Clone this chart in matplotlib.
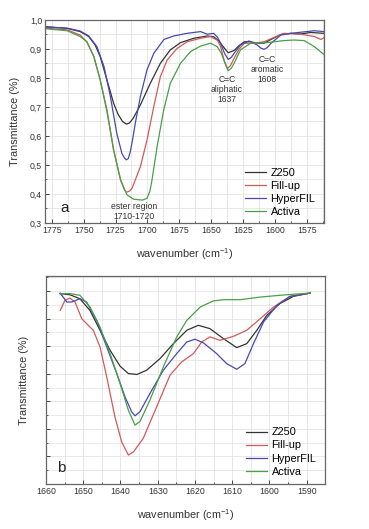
import matplotlib
matplotlib.use("Agg")
import matplotlib.pyplot as plt
from matplotlib.ticker import MultipleLocator, FuncFormatter

plt.rcParams['font.family'] = ['Liberation Sans', 'DejaVu Sans']
plt.rcParams['mathtext.fontset'] = 'custom'
plt.rcParams['mathtext.rm'] = 'Liberation Sans'
plt.rcParams['mathtext.it'] = 'Liberation Sans:italic'

# ---------------- Panel a data ----------------
z250_a_x = [1780, 1763, 1752.7, 1746, 1741, 1737, 1731.7, 1726.5, 1723, 1719.5, 1716.5, 1714, 1711, 1705.5,
            1697.7, 1689.8, 1682, 1674, 1663.6, 1653, 1648, 1644, 1640, 1636.6, 1632, 1628, 1624, 1619,
            1614, 1608.5, 1603, 1595.4, 1587.6, 1579.7, 1571.8, 1561.5]
z250_a_y = [0.977, 0.971, 0.96, 0.943, 0.914, 0.874, 0.793, 0.713, 0.675, 0.650, 0.641, 0.645, 0.662, 0.707,
            0.782, 0.851, 0.897, 0.922, 0.937, 0.945, 0.942, 0.928, 0.905, 0.887, 0.895, 0.912, 0.925, 0.925,
            0.92, 0.92, 0.933, 0.95, 0.954, 0.952, 0.957, 0.954]

fill_a_x = [1780, 1763, 1752.7, 1747.5, 1742, 1737, 1731.7, 1726.5, 1721, 1718, 1716.5, 1714, 1712, 1705.5,
            1700.3, 1695, 1689.8, 1684.5, 1676.7, 1668.8, 1658.3, 1650.5, 1645, 1642.6, 1639.5, 1637.4, 1635, 1632,
            1628, 1624, 1616.4, 1608.5, 1600.7, 1593, 1579.7, 1569, 1564, 1561]
fill_a_y = [0.972, 0.966, 0.948, 0.925, 0.874, 0.793, 0.69, 0.552, 0.448, 0.414, 0.406, 0.41, 0.42, 0.494,
            0.586, 0.701, 0.805, 0.862, 0.902, 0.925, 0.937, 0.943, 0.93, 0.908, 0.855, 0.832, 0.842, 0.868,
            0.9, 0.92, 0.92, 0.925, 0.94, 0.954, 0.951, 0.943, 0.933, 0.94]

hyper_a_x = [1780, 1763, 1752.7, 1746, 1739.6, 1734, 1729, 1724, 1720, 1718, 1716.5, 1715, 1713.4, 1711.5, 1709.5,
             1705.5, 1700.3, 1695, 1687, 1679.3, 1668.8, 1658.3, 1653, 1648, 1645, 1642.6, 1639.5, 1636.6,
             1634, 1632, 1627, 1620.3, 1614, 1611, 1608.5, 1606, 1603, 1595.4, 1587.6, 1569, 1561.5]
hyper_a_y = [0.976, 0.972, 0.962, 0.945, 0.908, 0.839, 0.736, 0.609, 0.54, 0.524, 0.518, 0.522, 0.546, 0.59, 0.644,
             0.736, 0.828, 0.885, 0.933, 0.945, 0.954, 0.96, 0.951, 0.954, 0.94, 0.92, 0.885, 0.864,
             0.872, 0.885, 0.914, 0.928, 0.914, 0.903, 0.899, 0.905, 0.92, 0.948, 0.954, 0.963, 0.96]

activa_a_x = [1780, 1763, 1752.7, 1747.5, 1742, 1737, 1731.7, 1726.5, 1721, 1716, 1710.8, 1704,
              1700.3, 1698, 1696.4, 1692.4, 1687.2, 1682, 1674, 1666.2, 1658.3, 1650.5, 1645.2, 1642, 1640,
              1636.6, 1634, 1632, 1627, 1619, 1606, 1593, 1585, 1577, 1569, 1561]
activa_a_y = [0.97, 0.963, 0.943, 0.925, 0.874, 0.793, 0.684, 0.552, 0.448, 0.397, 0.382, 0.379,
              0.385, 0.41, 0.448, 0.563, 0.69, 0.782, 0.851, 0.891, 0.91, 0.92, 0.908, 0.885, 0.862,
              0.825, 0.835, 0.851, 0.897, 0.92, 0.922, 0.929, 0.931, 0.929, 0.908, 0.879]

# ---------------- Panel b data ----------------
z250_b_x = [1656.2, 1653.6, 1650.9, 1648.2, 1645.5, 1642.8, 1640.1, 1637.9, 1635.6, 1633, 1629.4,
            1625.8, 1622.2, 1619.1, 1616, 1612.4, 1608.8, 1606.1, 1603.4, 1600.7, 1597.2, 1593.6, 1589.1]
z250_b_y = [13.82, 13.74, 13.45, 12.6, 11.16, 9.71, 8.55, 8.02, 7.95, 8.26, 9.1,
            10.19, 11.16, 11.52, 11.28, 10.56, 9.9, 10.19, 11.16, 12.25, 13.1, 13.62, 13.86]

fill_b_x = [1656.2, 1654.9, 1653.6, 1652.2, 1650.4, 1649.1, 1647.3, 1645.5, 1643.7, 1641.5, 1639.7,
            1637.9, 1636.5, 1633.9, 1630.3, 1626.7, 1623.6, 1620.4, 1618.2, 1616, 1613.3, 1609.7,
            1606.1, 1602.5, 1598.9, 1594.5, 1589.1]
fill_b_y = [12.6, 13.33, 13.5, 13.21, 12.0, 11.64, 11.16, 9.95, 7.78, 4.88, 3.07,
            2.1, 2.34, 3.31, 5.6, 7.9, 8.86, 9.47, 10.31, 10.68, 10.43, 10.72,
            11.16, 12.0, 12.85, 13.62, 13.86]

hyper_b_x = [1656.2, 1654.4, 1653.1, 1650.9, 1649.1, 1646.4, 1643.7, 1641, 1638.8, 1637, 1636.1,
             1634.8, 1632.1, 1628.5, 1624.9, 1622.2, 1620, 1617.7, 1614.2, 1611.5, 1608.8, 1606.6,
             1604.3, 1601.6, 1598, 1594.5, 1589.1]
hyper_b_y = [13.86, 13.21, 13.21, 13.45, 13.21, 11.88, 9.95, 8.02, 6.33, 5.24, 4.95,
             5.24, 6.57, 8.26, 9.47, 10.31, 10.51, 10.24, 9.47, 8.74, 8.33, 8.74,
             10.19, 11.76, 12.97, 13.62, 13.86]

activa_b_x = [1656.2, 1653.6, 1650.9, 1648.2, 1645.5, 1642.8, 1640.1, 1637.9, 1636.1, 1634.8, 1632.1,
              1628.5, 1624.9, 1622.2, 1618.6, 1615.1, 1612.4, 1607.9, 1602.5, 1596.3, 1589.1]
activa_b_y = [13.82, 13.82, 13.7, 12.85, 11.4, 9.47, 7.29, 5.36, 4.28, 4.52, 6.09,
              8.5, 10.68, 11.88, 12.85, 13.29, 13.38, 13.38, 13.57, 13.72, 13.86]

labels = ["Z250", "Fill-up", "HyperFIL", "Activa"]
colors = ["#333333", "#d05a5a", "#4848b0", "#48a048"]

fig = plt.figure(figsize=(3.69, 5.29), dpi=100)
axa = fig.add_axes([45/369, 1-223/529, 279/369, 203/529])
axb = fig.add_axes([46/369, 1-484/529, 279/369, 208/529])

frame = "#666666"
gridc = "#e4e4e4"
tick_fs = 6.3
lab_fs = 7.8

def style(ax):
    for s in ax.spines.values():
        s.set_color(frame)
        s.set_linewidth(0.9)
    ax.grid(True, which='both', color=gridc, linewidth=0.6)
    ax.set_axisbelow(True)
    ax.tick_params(which='both', direction='in', top=False, right=False, color="#444444",
                   labelsize=tick_fs, labelcolor="#333333", pad=2)
    ax.tick_params(which='major', length=3, width=0.7)
    ax.tick_params(which='minor', length=1.6, width=0.6)

leg_kw = dict(loc='lower right', fontsize=7.8, frameon=False, handlelength=1.9,
              handletextpad=0.45, labelspacing=0.28, borderaxespad=0.0)

# Panel a
for xs, ys, lab, c in zip([z250_a_x, fill_a_x, hyper_a_x, activa_a_x],
                          [z250_a_y, fill_a_y, hyper_a_y, activa_a_y], labels, colors):
    axa.plot(xs, ys, color=c, lw=0.9, label=lab)
axa.set_xlim(1780.3, 1561.5)
axa.set_ylim(0.3, 1.0)
axa.xaxis.set_major_locator(MultipleLocator(25))
axa.xaxis.set_minor_locator(MultipleLocator(12.5))
axa.yaxis.set_major_locator(MultipleLocator(0.1))
axa.yaxis.set_minor_locator(MultipleLocator(0.05))
axa.yaxis.set_major_formatter(FuncFormatter(lambda v, p: f"{v:.1f}".replace(".", ",")))
style(axa)
axa.set_xlabel("wavenumber (cm$^{-1}$)", fontsize=lab_fs, color="#333333", labelpad=8)
axa.set_ylabel("Transmittance (%)", fontsize=lab_fs, color="#333333", labelpad=7)
axa.legend(bbox_to_anchor=(0.985, 0.01), **leg_kw)
axa.text(0.055, 0.055, "a", transform=axa.transAxes, fontsize=11, color="#222222")
ann_fs = 6.2
axa.text(1710.5, 0.372, "ester region\n1710-1720", ha='center', va='top', fontsize=ann_fs,
         color="#333333", linespacing=1.15)
axa.text(1637.5, 0.81, "C=C\naliphatic\n1637", ha='center', va='top', fontsize=ann_fs,
         color="#333333", linespacing=1.15)
axa.text(1606, 0.88, "C=C\naromatic\n1608", ha='center', va='top', fontsize=ann_fs,
         color="#333333", linespacing=1.15)

# Panel b
for xs, ys, lab, c in zip([z250_b_x, fill_b_x, hyper_b_x, activa_b_x],
                          [z250_b_y, fill_b_y, hyper_b_y, activa_b_y], labels, colors):
    axb.plot(xs, ys, color=c, lw=0.9, label=lab)
axb.set_xlim(1660, 1585.1)
axb.set_ylim(0, 15.1)
axb.xaxis.set_major_locator(MultipleLocator(10))
axb.xaxis.set_minor_locator(MultipleLocator(5))
axb.yaxis.set_major_locator(MultipleLocator(2))
axb.yaxis.set_minor_locator(MultipleLocator(1))
style(axb)
axb.tick_params(axis='y', labelleft=False)
axb.set_xlabel("wavenumber (cm$^{-1}$)", fontsize=lab_fs, color="#333333", labelpad=8)
axb.set_ylabel("Transmittance (%)", fontsize=lab_fs, color="#333333", labelpad=10)
axb.legend(bbox_to_anchor=(0.985, 0.015), **leg_kw)
axb.text(0.04, 0.06, "b", transform=axb.transAxes, fontsize=11, color="#222222")

fig.savefig("out.png", dpi=100)
